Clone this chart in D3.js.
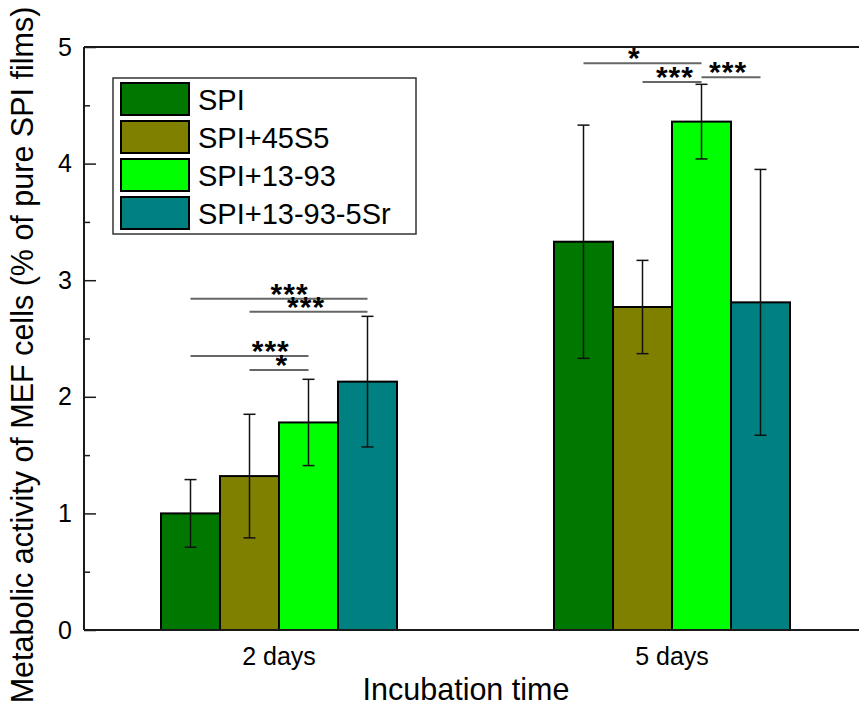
<!DOCTYPE html>
<html><head><meta charset="utf-8">
<script src="https://cdn.jsdelivr.net/npm/d3@7/dist/d3.min.js"></script>
<style>
body{margin:0;background:#fff;}
text{font-family:Arial,"Liberation Sans",sans-serif;fill:#000;}
</style></head>
<body>
<svg id="chart" width="859" height="710"></svg>
<script>
const groups = ["2 days", "5 days"];
const series = ["SPI", "SPI+45S5", "SPI+13-93", "SPI+13-93-5Sr"];
const colors = ["#007800", "#808000", "#00ff00", "#008080"];
const means2 = [1.00, 1.32, 1.78, 2.13];
const errs2  = [0.29, 0.53, 0.37, 0.56];
const means5 = [3.33, 2.77, 4.36, 2.81];
const errs5  = [1.00, 0.40, 0.32, 1.14];
const yTicks = [0, 1, 2, 3, 4, 5];
// significance brackets: group, from series idx, to series idx, y value, label
const sigGroup = ["2 days","2 days","2 days","2 days","5 days","5 days","5 days"];
const sigFrom  = [0, 1, 0, 1, 0, 1, 2];
const sigTo    = [3, 3, 2, 2, 2, 2, 3];
const sigY     = [2.84, 2.73, 2.35, 2.23, 4.86, 4.70, 4.74];
const sigLabel = ["***","***","***","*","*","***","***"];
// where the label sits along its bracket (0 = left end, 1 = right end)
const sigAlong = [0.56, 0.48, 0.68, 0.55, 0.43, 0.55, 0.45];

const svg = d3.select("#chart");
const L = 84, R = 859, T = 47, B = 630;
const y = d3.scaleLinear().domain([0,5]).range([B, T]);
const x = d3.scaleBand().domain(groups).range([82.5, 868.5]).padding(0);
const xs = d3.scaleBand().domain(series).range([-118, 118]).padding(0);
const cx = (g, s) => x(g) + x.bandwidth()/2 + xs(series[s]) + xs.bandwidth()/2;

const data = [];
groups.forEach((g, gi) => {
  const m = gi === 0 ? means2 : means5, e = gi === 0 ? errs2 : errs5;
  series.forEach((s, si) => data.push({g, s, si, v: m[si], e: e[si]}));
});

// bars
svg.append("g").selectAll("rect").data(data).enter().append("rect")
  .attr("x", d => x(d.g) + x.bandwidth()/2 + xs(d.s))
  .attr("y", d => y(d.v))
  .attr("width", xs.bandwidth())
  .attr("height", d => y(0) - y(d.v))
  .attr("fill", d => colors[d.si])
  .attr("stroke", "#000").attr("stroke-width", 2);

// error bars
const eb = svg.append("g").attr("stroke", "#111").attr("stroke-width", 1.5);
data.forEach(d => {
  const c = cx(d.g, d.si);
  eb.append("line").attr("x1", c).attr("x2", c).attr("y1", y(d.v + d.e)).attr("y2", y(d.v - d.e));
  eb.append("line").attr("x1", c-6).attr("x2", c+6).attr("y1", y(d.v + d.e)).attr("y2", y(d.v + d.e));
  eb.append("line").attr("x1", c-6).attr("x2", c+6).attr("y1", y(d.v - d.e)).attr("y2", y(d.v - d.e));
});

// significance
const sg = svg.append("g");
sigGroup.forEach((g, i) => {
  const x1 = cx(g, sigFrom[i]), x2 = cx(g, sigTo[i]), yy = y(sigY[i]);
  sg.append("line").attr("x1", x1).attr("x2", x2).attr("y1", yy).attr("y2", yy)
    .attr("stroke", "#666").attr("stroke-width", 2);
  sg.append("text").attr("x", x1 + (x2 - x1) * sigAlong[i]).attr("y", yy + 5)
    .attr("text-anchor", "middle").attr("font-size", 30).attr("font-weight", "bold")
    .attr("letter-spacing", 1).text(sigLabel[i]);
});

// axes frame
const ax = svg.append("g").attr("stroke", "#1a1a1a").attr("stroke-width", 2);
ax.append("line").attr("x1", L).attr("x2", L).attr("y1", T).attr("y2", B);
ax.append("line").attr("x1", L).attr("x2", R).attr("y1", B).attr("y2", B);
ax.append("line").attr("x1", L).attr("x2", R).attr("y1", T).attr("y2", T);

// y axis ticks via d3 axis (inward)
const yAxis = d3.axisLeft(y).tickValues(yTicks).tickSize(-12).tickPadding(0).tickFormat(d3.format("d"));
const ya = svg.append("g").attr("transform", `translate(${L},0)`).call(yAxis);
ya.select(".domain").remove();
ya.selectAll(".tick line").attr("stroke", "#1a1a1a").attr("stroke-width", 1.5);
ya.selectAll(".tick text").attr("x", -12).attr("font-size", 25).attr("font-family", "Arial, 'Liberation Sans', sans-serif").attr("fill", "#000");
const yMinor = d3.axisLeft(y).tickValues(d3.range(0.5, 5, 1)).tickSize(-6).tickFormat("");
const ym = svg.append("g").attr("transform", `translate(${L},0)`).call(yMinor);
ym.select(".domain").remove();
ym.selectAll(".tick line").attr("stroke", "#1a1a1a").attr("stroke-width", 1.5);

// x labels
const xa = d3.axisBottom(x).tickSize(0).tickPadding(0);
const xg = svg.append("g").attr("transform", `translate(0,${B})`).call(xa);
xg.select(".domain").remove();
xg.selectAll(".tick text").attr("y", 35).attr("dy", 0).attr("font-size", 25).attr("font-family", "Arial, 'Liberation Sans', sans-serif").attr("fill", "#000");

// axis titles
svg.append("text").attr("x", 466).attr("y", 700).attr("text-anchor", "middle").attr("font-size", 30.5).text("Incubation time");
svg.append("text").attr("transform", "translate(33,355) rotate(-90)").attr("text-anchor", "middle").attr("font-size", 30.5)
  .text("Metabolic activity of MEF cells (% of pure SPI films)");

// legend
const lg = svg.append("g");
lg.append("rect").attr("x", 113).attr("y", 78).attr("width", 303).attr("height", 156)
  .attr("fill", "#fff").attr("stroke", "#333").attr("stroke-width", 1.5);
series.forEach((s, i) => {
  const yy = 83 + i * 38;
  lg.append("rect").attr("x", 121).attr("y", yy).attr("width", 68).attr("height", 32)
    .attr("fill", colors[i]).attr("stroke", "#000").attr("stroke-width", 2);
  lg.append("text").attr("x", 198).attr("y", yy + 27).attr("font-size", 29).text(s);
});
</script>
</body></html>
